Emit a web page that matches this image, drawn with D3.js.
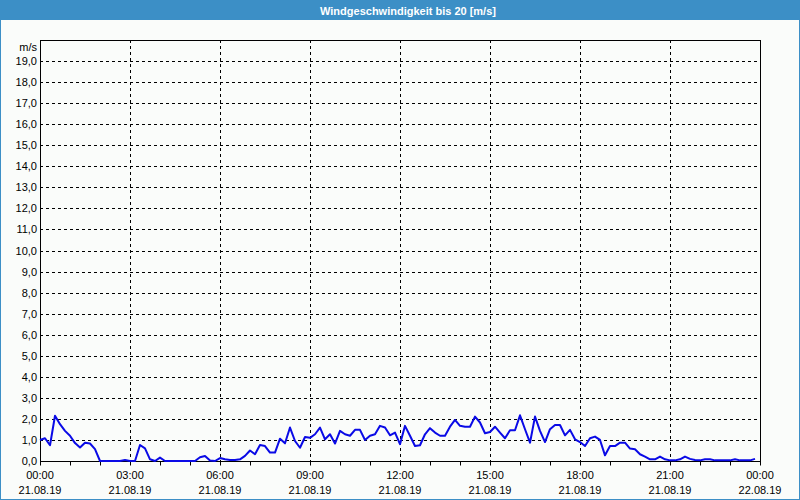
<!DOCTYPE html>
<html>
<head>
<meta charset="utf-8">
<script src="https://cdn.jsdelivr.net/npm/d3@7"></script>
<style>
  body { margin: 0; background: #fff; }
  svg { display: block; font-family: "Liberation Sans", Arial, sans-serif; }
</style>
</head>
<body>
<svg id="chart" width="800" height="500"></svg>
<script>
// wind speed in m/s, one value every 10 minutes from 21.08.19 00:00
const speeds = [
  1.00, 1.08, 0.75, 2.15, 1.75, 1.43, 1.20, 0.85, 0.64, 0.87, 0.83, 0.56,
  0.00, 0.00, 0.00, 0.00, 0.00, 0.05, 0.00, 0.00, 0.76, 0.60, 0.08, 0.00,
  0.16, 0.00, 0.00, 0.00, 0.00, 0.00, 0.00, 0.00, 0.18, 0.24, 0.02, 0.00,
  0.14, 0.08, 0.05, 0.05, 0.08, 0.24, 0.50, 0.32, 0.76, 0.71, 0.40, 0.40,
  1.06, 0.84, 1.59, 0.95, 0.63, 1.14, 1.10, 1.27, 1.59, 1.03, 1.27, 0.83,
  1.43, 1.27, 1.20, 1.48, 1.48, 1.00, 1.20, 1.27, 1.67, 1.59, 1.22, 1.35,
  0.80, 1.67, 1.20, 0.71, 0.75, 1.27, 1.56, 1.35, 1.20, 1.20, 1.63, 1.95,
  1.67, 1.63, 1.63, 2.11, 1.83, 1.32, 1.38, 1.63, 1.35, 1.08, 1.46, 1.46,
  2.17, 1.51, 0.87, 2.11, 1.43, 0.90, 1.51, 1.71, 1.71, 1.22, 1.48, 1.03,
  0.90, 0.71, 1.08, 1.16, 1.00, 0.27, 0.71, 0.71, 0.87, 0.87, 0.59, 0.56,
  0.32, 0.21, 0.08, 0.08, 0.21, 0.08, 0.03, 0.03, 0.08, 0.21, 0.10, 0.05,
  0.03, 0.08, 0.08, 0.03, 0.03, 0.03, 0.03, 0.08, 0.03, 0.03, 0.03, 0.10
];
const yTicks = [0, 1, 2, 3, 4, 5, 6, 7, 8, 9, 10, 11, 12, 13, 14, 15, 16, 17, 18, 19];
const xTicksMajor = ["00:00", "03:00", "06:00", "09:00", "12:00", "15:00", "18:00", "21:00", "00:00"];
const xDates = ["21.08.19", "21.08.19", "21.08.19", "21.08.19", "21.08.19", "21.08.19", "21.08.19", "21.08.19", "22.08.19"];

const start = new Date(2019, 7, 21, 0, 0);
const end = new Date(2019, 7, 22, 0, 0);
const data = speeds.map((v, i) => ({ t: d3.timeMinute.offset(start, i * 10), v }));

const blue = "#3c8fc6";
const svg = d3.select("#chart");
const W = 800, H = 500;
const margin = { top: 40, right: 40, bottom: 39, left: 40 };

svg.append("rect").attr("width", W).attr("height", H).attr("fill", "#fafcfa");
// window frame + title bar
svg.append("rect").attr("x", 0.5).attr("y", 0.5).attr("width", W - 1).attr("height", H - 1)
  .attr("fill", "none").attr("stroke", blue);
svg.append("rect").attr("width", W).attr("height", 20).attr("fill", blue);
svg.append("text").attr("x", 408).attr("y", 14.5).attr("text-anchor", "middle")
  .attr("fill", "#fff").attr("font-size", 11).attr("font-weight", "bold")
  .text("Windgeschwindigkeit bis 20 [m/s]");

const x = d3.scaleTime().domain([start, end]).range([margin.left, W - margin.right]);
const y = d3.scaleLinear().domain([0, 20]).range([H - margin.bottom, margin.top]);

// horizontal grid
svg.append("g")
  .selectAll("line")
  .data(yTicks.slice(1))
  .enter()
  .append("line")
  .attr("x1", margin.left).attr("x2", W - margin.right)
  .attr("y1", d => Math.round(y(d)) + 0.5).attr("y2", d => Math.round(y(d)) + 0.5)
  .attr("stroke", "#000").attr("stroke-dasharray", "3,3");

// vertical grid every 3 hours
const gridTimes = d3.timeHour.every(3).range(d3.timeHour.offset(start, 3), end);
svg.append("g")
  .selectAll("line")
  .data(gridTimes)
  .enter()
  .append("line")
  .attr("x1", d => Math.round(x(d)) + 0.5).attr("x2", d => Math.round(x(d)) + 0.5)
  .attr("y1", margin.top).attr("y2", H - margin.bottom)
  .attr("stroke", "#000").attr("stroke-dasharray", "3,3");

// y labels
svg.append("g")
  .selectAll("text")
  .data(yTicks)
  .enter()
  .append("text")
  .attr("x", 37).attr("y", d => y(d) + 4)
  .attr("text-anchor", "end").attr("font-size", 11).attr("fill", "#000")
  .text(d => d3.format(".1f")(d).replace(".", ","));
svg.append("text").attr("x", 37).attr("y", 51).attr("text-anchor", "end")
  .attr("font-size", 11).attr("fill", "#000").text("m/s");

// x axis with hourly ticks
const xAxis = svg.append("g")
  .attr("transform", `translate(0,${Math.round(y(0)) + 0.5})`)
  .call(d3.axisBottom(x).ticks(d3.timeHour.every(1)).tickSize(4).tickFormat(""));
xAxis.select(".domain").remove();
xAxis.selectAll("line").attr("stroke", "#000");

const majorTimes = d3.timeHour.every(3).range(start, d3.timeHour.offset(end, 1));
const lbl = svg.append("g").selectAll("g").data(majorTimes).enter().append("g")
  .attr("transform", d => `translate(${x(d)},0)`);
lbl.append("text").attr("y", 479).attr("text-anchor", "middle").attr("font-size", 11)
  .attr("fill", "#000").text((d, i) => xTicksMajor[i]);
lbl.append("text").attr("y", 494).attr("text-anchor", "middle").attr("font-size", 11)
  .attr("fill", "#000").text((d, i) => xDates[i]);

// plot frame
svg.append("rect")
  .attr("x", margin.left + 0.5).attr("y", margin.top + 0.5)
  .attr("width", W - margin.left - margin.right).attr("height", Math.round(y(0)) - margin.top)
  .attr("fill", "none").attr("stroke", "#000");

// wind line
const line = d3.line()
  .x(d => x(d.t))
  .y(d => y(d.v));
svg.append("path")
  .datum(data)
  .attr("d", line)
  .attr("fill", "none")
  .attr("stroke", "#0a0ae6")
  .attr("stroke-width", 2)
  .attr("stroke-linejoin", "round");
</script>
</body>
</html>
